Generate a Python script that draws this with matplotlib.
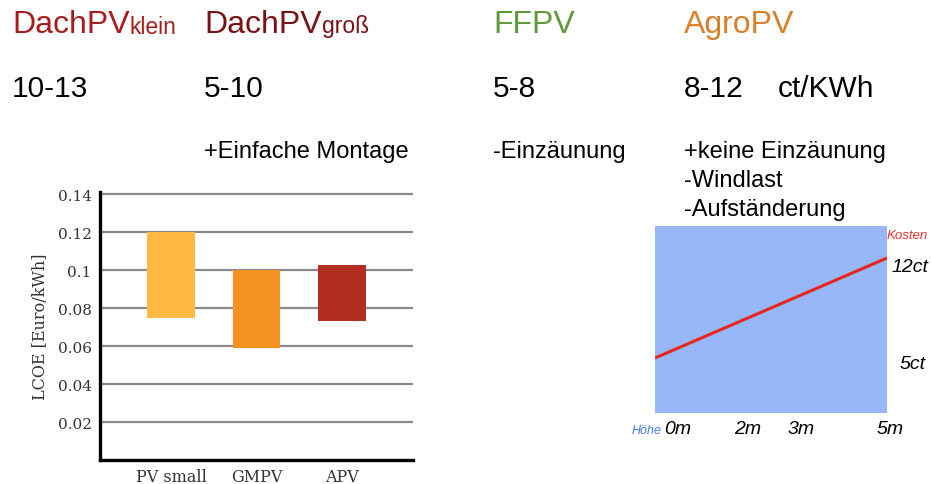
import matplotlib
matplotlib.use("Agg")
import matplotlib.pyplot as plt

# ---------------- data ----------------
categories = ["PV small", "GMPV", "APV"]
lcoe_low = [0.075, 0.059, 0.073]
lcoe_high = [0.120, 0.100, 0.1025]
bar_colors = ["#FDB942", "#F39121", "#B22E20"]
yticks = [0.02, 0.04, 0.06, 0.08, 0.1, 0.12, 0.14]
ytick_labels = ["0.02", "0.04", "0.06", "0.08", "0.1", "0.12", "0.14"]

titles = ["DachPV", "DachPV", "FFPV", "AgroPV"]
title_subs = ["klein", "groß", "", ""]
title_colors = ["#A81C1E", "#7A1214", "#5E9A37", "#D97F2A"]
ranges = ["10-13", "5-10", "5-8", "8-12"]
unit = "ct/KWh"
notes = [[], ["+Einfache Montage"], ["-Einzäunung"],
         ["+keine Einzäunung", "-Windlast", "-Aufständerung"]]

height_m = [0, 5]
cost_ct = [5, 12]
height_ticks = [0, 2, 3, 5]
height_labels = ["0m", "2m", "3m", "5m"]

# ---------------- figure ----------------
W, H = 932, 485
fig = plt.figure(figsize=(W / 100, H / 100), dpi=100)
fig.patch.set_facecolor("white")

def fx(px):
    return px / W

def fy(py):
    return 1 - py / H

sans = "Liberation Sans"
col_x = [12, 204, 493, 684]

renderer = fig.canvas.get_renderer()

# title row
for x, t, s, c in zip(col_x, titles, title_subs, title_colors):
    txt = fig.text(fx(x), fy(33), t, color=c, fontsize=23, family=sans, va="baseline")
    if s:
        bb = txt.get_window_extent(renderer=renderer)
        fig.text(bb.x1 / W, fy(33.5), s, color=c, fontsize=16.5, family=sans, va="baseline")

# range row
for x, rtxt in zip(col_x, ranges):
    fig.text(fx(x), fy(97), rtxt, color="black", fontsize=21.5, family=sans, va="baseline")
fig.text(fx(778), fy(97), unit, color="black", fontsize=21.5, family=sans, va="baseline")

# notes
baselines = [158, 187, 216]
for x, lines in zip(col_x, notes):
    for i, line in enumerate(lines):
        fig.text(fx(x), fy(baselines[i]), line, color="black", fontsize=17,
                 family=sans, va="baseline")

# ---------------- bar chart ----------------
ax = fig.add_axes([fx(100), fy(461), fx(413 - 100), (461 - 193) / H])
xpos = list(range(len(categories)))
heights = [h - l for h, l in zip(lcoe_high, lcoe_low)]
ax.set_axisbelow(True)
ax.yaxis.grid(True, color="#8a8a8a", linewidth=1.6)
ax.bar(xpos, heights, bottom=lcoe_low, width=0.56, color=bar_colors, zorder=3)
ax.set_xlim(-0.83, 2.83)
ax.set_ylim(0, 0.1412)
ax.set_yticks(yticks)
ax.set_yticklabels(ytick_labels)
ax.set_xticks(xpos)
ax.set_xticklabels(categories)
for sp in ["top", "right"]:
    ax.spines[sp].set_visible(False)
for sp in ["left", "bottom"]:
    ax.spines[sp].set_linewidth(2.4)
    ax.spines[sp].set_color("black")
ax.tick_params(axis="both", length=0, colors="#333333")
ax.tick_params(axis="y", pad=6)
ax.tick_params(axis="x", pad=6)
for lab in ax.get_yticklabels():
    lab.set_family("DejaVu Serif")
    lab.set_fontsize(11)
for lab in ax.get_xticklabels():
    lab.set_family("DejaVu Serif")
    lab.set_fontsize(11.5)
ax.set_ylabel("LCOE [Euro/kWh]", family="DejaVu Serif", fontsize=11.5, color="#333333",
              labelpad=6)

# ---------------- cost vs height chart ----------------
ax2 = fig.add_axes([fx(655), fy(414), fx(887 - 655), (414 - 227) / H])
ax2.set_facecolor("#97B7F9")
ax2.plot(height_m, cost_ct, color="#E8251B", linewidth=2.2, solid_capstyle="butt")
ax2.set_xlim(0, 5)
ax2.set_ylim(1.15, 14.24)
for sp in ax2.spines.values():
    sp.set_visible(False)
ax2.set_xticks([])
ax2.set_yticks([])

# axis annotations as text
label_x = {0: 678, 2: 748, 3: 801, 5: 890}
for t, lab in zip(height_ticks, height_labels):
    fig.text(fx(label_x[t]), fy(430), lab, fontsize=14, style="italic", family=sans,
             ha="center", va="center", color="black")
fig.text(fx(662), fy(431), "Höhe", fontsize=9, style="italic", family=sans,
         ha="right", va="center", color="#4A7BF0")
fig.text(fx(928), fy(236), "Kosten", fontsize=9.5, style="italic", family=sans,
         ha="right", va="center", color="#F0302A")
fig.text(fx(928), fy(267), "12ct", fontsize=14, style="italic", family=sans,
         ha="right", va="center", color="black")
fig.text(fx(926), fy(365), "5ct", fontsize=14, style="italic", family=sans,
         ha="right", va="center", color="black")

fig.savefig("out.png", dpi=100, facecolor="white")
